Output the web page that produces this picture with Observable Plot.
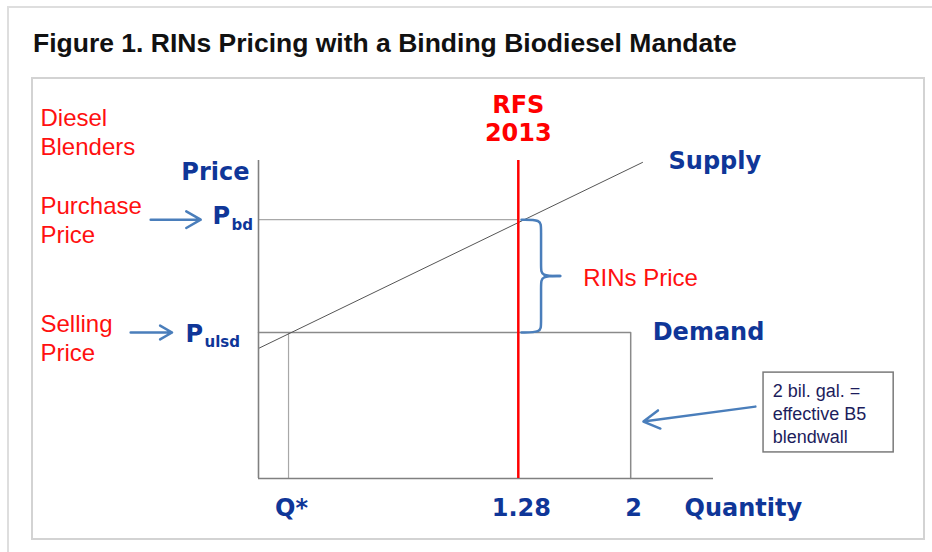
<!DOCTYPE html>
<html>
<head>
<meta charset="utf-8">
<script src="https://cdn.jsdelivr.net/npm/d3@7"></script>
<script src="https://cdn.jsdelivr.net/npm/@observablehq/plot@0.6"></script>
<style>
  html, body { margin: 0; padding: 0; background: #fff; }
  #wrap { position: relative; width: 932px; height: 552px; overflow: hidden; background: #fff; }
  #outer { position: absolute; left: 7px; top: 6px; width: 940px; height: 560px;
           border-left: 2px solid #dedede; border-top: 2px solid #dedede; }
  #inner { position: absolute; left: 31px; top: 77px; width: 890px; height: 459px;
           border: 2px solid #d3d3d3; }
  #title { position: absolute; left: 33px; top: 28px; font: bold 26.5px "Liberation Sans", Arial, sans-serif;
           color: #111; white-space: nowrap; }
  #chart { position: absolute; left: 0; top: 0; }
</style>
</head>
<body>
<div id="wrap">
  <div id="outer"></div>
  <div id="inner"></div>
  <div id="title">Figure 1. RINs Pricing with a Binding Biodiesel Mandate</div>
  <div id="chart"></div>
</div>
<script>
// ---- schematic data (diagram units: quantity 0–100, price 0–100) ----
const quantityTicks = ["Q*", "1.28", "2"];
const quantityTickPos = [6.6, 57.1, 81.8];
const priceSubscripts = ["bd", "ulsd"];
const priceLevels = [81.4, 45.9];
const supplyQ = [0, 84.4];
const supplyP = [40.9, 99.4];
const demandQ = [0, 81.8, 81.8];
const demandP = [45.9, 45.9, 0];
const mandateQ = 57.1;          // RFS 2013 requirement (1.28)
const blendwallText = ["2 bil. gal. =", "effective B5", "blendwall"];

const qStar = quantityTickPos[0];
const pBd = priceLevels[0];
const pUlsd = priceLevels[1];

const supply = supplyQ.map((q, i) => ({q, p: supplyP[i]}));
const demand = demandQ.map((q, i) => ({q, p: demandP[i]}));

// curly brace between the two price levels, at the mandate quantity
const x0 = mandateQ + 0.7, xs = mandateQ + 5, xt = mandateQ + 9.2;
const yMid = (pBd + pUlsd) / 2;
const brace = [
  {q: x0, p: pBd, h: 0}, {q: xs, p: pBd, h: 0}, {q: xs, p: pBd - 2.5, h: 0},
  {q: xs, p: yMid + 2.5, h: 0}, {q: xs, p: yMid, h: 0}, {q: xt, p: yMid, h: 0},
  {q: x0, p: pUlsd, h: 1}, {q: xs, p: pUlsd, h: 1}, {q: xs, p: pUlsd + 2.5, h: 1},
  {q: xs, p: yMid - 2.5, h: 1}, {q: xs, p: yMid, h: 1}, {q: xt, p: yMid, h: 1}
];

const BLUE = "#0f3698";
const RED = "#ff1010";
const ARROW = "#4a7ebb";
const bold = {fontFamily: "DejaVu Sans", fontWeight: "bold", fontSize: 24, fill: BLUE};
const redTxt = {fontFamily: "Liberation Sans", fontSize: 24, fill: RED, lineHeight: 1.2};
const one = [0];

const chart = Plot.plot({
  width: 932,
  height: 552,
  marginLeft: 258,
  marginRight: 219,
  marginTop: 160,
  marginBottom: 74,
  style: {background: "transparent", overflow: "visible"},
  x: {domain: [0, 100], axis: null},
  y: {domain: [0, 100], axis: null},
  marks: [
    // guide lines
    Plot.ruleY([pBd], {x1: 0, x2: mandateQ, stroke: "#a8a8a8", strokeWidth: 1.2}),
    Plot.ruleX([qStar], {y1: 0, y2: pUlsd, stroke: "#a8a8a8", strokeWidth: 1.2}),
    // demand
    Plot.line(demand, {x: "q", y: "p", stroke: "#8a8a8a", strokeWidth: 1.5}),
    // supply
    Plot.line(supply, {x: "q", y: "p", stroke: "#555", strokeWidth: 1}),
    // axes
    Plot.ruleX([0], {y1: 0, y2: 100, stroke: "#808080", strokeWidth: 1.6}),
    Plot.ruleY([0], {x1: 0, x2: 100, stroke: "#808080", strokeWidth: 1.6}),
    // RFS mandate
    Plot.ruleX([mandateQ], {y1: 0, y2: 100, stroke: "#ff0000", strokeWidth: 2.5}),
    // brace
    Plot.line(brace, {x: "q", y: "p", z: "h", curve: "basis", stroke: ARROW, strokeWidth: 2.5}),
    // arrows
    Plot.arrow(one, {x1: -23.7, x2: -12.7, y1: pBd, y2: pBd, stroke: ARROW, strokeWidth: 2.5, headLength: 11}),
    Plot.arrow(one, {x1: -28.1, x2: -19, y1: pUlsd, y2: pUlsd, stroke: ARROW, strokeWidth: 2.5, headLength: 11}),
    Plot.arrow(one, {x1: 109.2, y1: 22.6, x2: 84.6, y2: 17.9, stroke: ARROW, strokeWidth: 2.5, headLength: 11}),
    // blendwall box
    Plot.rect(one, {x1: 111, x2: 139.6, y1: 8.2, y2: 33.3, fill: "white", stroke: "#7a7a7a", strokeWidth: 1.5}),
    Plot.text([blendwallText.join("\n")], {x: 113, y: 20.75, text: d => d, textAnchor: "start", lineAnchor: "middle",
      lineHeight: 1.3, fontFamily: "Liberation Sans", fontSize: 18, fill: "#1d1d5c"}),
    // quantity ticks
    Plot.text(quantityTicks, {x: (d, i) => quantityTickPos[i], y: 0, dy: 30, dx: 3, text: d => d, lineAnchor: "middle", ...bold}),
    Plot.text(["Quantity"], {x: 100, y: 0, dx: -29, dy: 30, text: d => d, textAnchor: "start", lineAnchor: "middle", ...bold}),
    // curve labels
    Plot.text(["Supply"], {x: supplyQ[1], y: supplyP[1], dx: 26, dy: -1, text: d => d, textAnchor: "start", lineAnchor: "middle", ...bold}),
    Plot.text(["Demand"], {x: demandQ[1], y: demandP[1], dx: 22, text: d => d, textAnchor: "start", lineAnchor: "middle", ...bold}),
    Plot.text(["Price"], {x: 0, y: 100, dx: -9, dy: 12, text: d => d, textAnchor: "end", lineAnchor: "middle", ...bold}),
    // price level labels
    Plot.text(["P"], {x: 0, y: pBd, dx: -46, dy: -3, text: d => d, textAnchor: "start", lineAnchor: "middle", ...bold}),
    Plot.text([priceSubscripts[0]], {x: 0, y: pBd, dx: -27, dy: 6, text: d => d, textAnchor: "start", lineAnchor: "middle", ...bold, fontSize: 15}),
    Plot.text(["P"], {x: 0, y: pUlsd, dx: -73, dy: 1.5, text: d => d, textAnchor: "start", lineAnchor: "middle", ...bold}),
    Plot.text([priceSubscripts[1]], {x: 0, y: pUlsd, dx: -54, dy: 10, text: d => d, textAnchor: "start", lineAnchor: "middle", ...bold, fontSize: 15}),
    // RFS label
    Plot.text(["RFS"], {x: mandateQ, y: 100, dy: -55, text: d => d, lineAnchor: "middle", ...bold, fill: "#ff0000"}),
    Plot.text(["2013"], {x: mandateQ, y: 100, dy: -27, text: d => d, lineAnchor: "middle", ...bold, fill: "#ff0000"}),
    // red annotations
    Plot.text(["RINs Price"], {x: xt, y: yMid, dx: 23, dy: 1, text: d => d, textAnchor: "start", lineAnchor: "middle", ...redTxt}),
    Plot.text(["Diesel\nBlenders"], {x: 0, y: 100, dx: -218, dy: -29, text: d => d, textAnchor: "start", lineAnchor: "middle", ...redTxt}),
    Plot.text(["Purchase\nPrice"], {x: 0, y: pBd, dx: -218, dy: 0, text: d => d, textAnchor: "start", lineAnchor: "middle", ...redTxt}),
    Plot.text(["Selling\nPrice"], {x: 0, y: pUlsd, dx: -218, dy: 4.5, text: d => d, textAnchor: "start", lineAnchor: "middle", ...redTxt})
  ]
});
document.getElementById("chart").appendChild(chart);
</script>
</body>
</html>
